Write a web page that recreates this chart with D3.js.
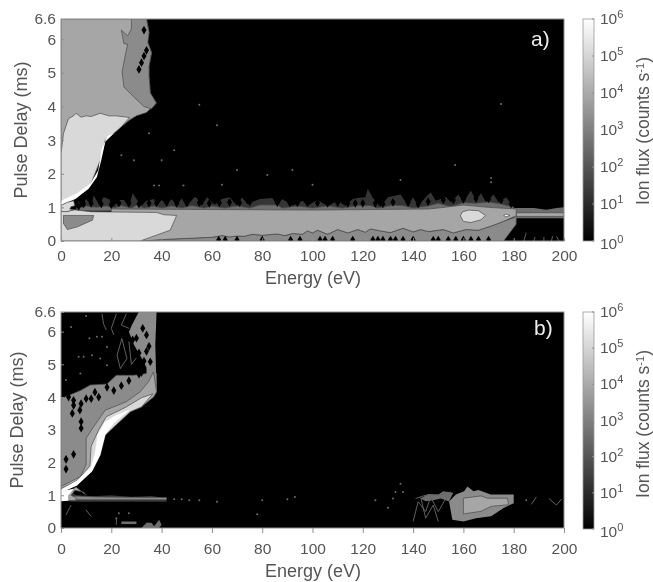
<!DOCTYPE html>
<html>
<head>
<meta charset="utf-8">
<script src="https://cdn.jsdelivr.net/npm/d3@7"></script>
<style>
  html, body { margin: 0; padding: 0; background: #fff; }
  text { font-family: "Liberation Sans", Arial, sans-serif; fill: #555; }
</style>
</head>
<body>
<svg id="chart" width="653" height="582"></svg>
<script>
// tick labels
const energyTicks = [0, 20, 40, 60, 80, 100, 120, 140, 160, 180, 200];
const delayTicks = [0, 1, 2, 3, 4, 5, 6, 6.6];
const fluxExponents = [0, 1, 2, 3, 4, 5, 6];

// level colours of the filled contours
const levelDark = "#8b8b8b";
const levelMid = "#a6a6a6";
const levelLight = "#d9d9d9";
const levelWhite = "#ffffff";
const levelFringe = "#363636";
const levelFringe2 = "#6e6e6e";

// panel a, regions as [energy, delay]
const aTopLeft = [[0,6.6],[34,6.6],[35,6.2],[34.5,5.9],[36,5.6],[35,5.2],[35,4.9],[35.5,4.4],[37.9,4.1],[34,3.82],[30,3.72],[27.3,3.6],[24,3.4],[21,3.2],[17.6,3],[15.6,2.4],[11.6,1.65],[6.4,1.3],[0,1.06]];
const aTopDark = [[28,6.6],[34,6.6],[35,6.2],[34.5,5.9],[36,5.6],[35,5.2],[35,4.9],[35.5,4.4],[37.9,4.1],[36,3.93],[33,4],[29,4.28],[25,4.58],[24.3,5.03],[25.5,5.5],[26.5,5.85],[25,5.87],[24,6.27],[26.5,6.1],[28,6.3]];
const aLightTop = [[0,2.6],[1,3.2],[3,3.64],[5,3.72],[6,3.8],[8,3.68],[10,3.72],[12,3.7],[15.6,3.8],[19,3.72],[22,3.72],[27.3,3.67],[24,3.4],[21,3.2],[17.6,3],[15.6,2.4],[11.6,1.65],[6.4,1.3],[0,1.1]];
const aWhiteBand = [[21,3.2],[18.5,3.12],[16.2,2.75],[14.8,2.1],[11.8,1.72],[6.4,1.42],[0,1.2],[0,1.06],[5.7,1.25],[11,1.55],[14.3,1.9],[16,2.4],[17.6,2.95]];
const aBottomStrip = [[30,0],[42,0.05],[60,0.11],[64,0.16],[67,0.12],[70,0.15],[73,0.14],[76,0.2],[80,0.17],[86,0.21],[89,0.16],[92,0.22],[96,0.2],[98,0.3],[100,0.24],[102,0.32],[106,0.2],[110,0.34],[114,0.24],[118,0.34],[121,0.26],[123,0.36],[127,0.3],[131,0.25],[136,0.38],[140,0.27],[143,0.34],[146,0.28],[152,0.34],[156,0.24],[161,0.34],[166,0.32],[172,0.47],[176.5,0.6],[181,0.72],[181,0.5],[178,0.2],[176,0],[30,0]];
const aBand = [[20,0],[31.5,0],[42,0.05],[60,0.11],[64,0.16],[67,0.12],[70,0.15],[73,0.14],[76,0.2],[80,0.17],[86,0.21],[89,0.16],[92,0.22],[96,0.2],[98,0.3],[100,0.24],[102,0.32],[106,0.2],[110,0.34],[114,0.24],[118,0.34],[121,0.26],[123,0.36],[127,0.3],[131,0.25],[136,0.38],[140,0.27],[143,0.34],[146,0.28],[152,0.34],[156,0.24],[161,0.34],[166,0.32],[172,0.47],[176.5,0.6],[181,0.75],[181,0.95],[170,1.0],[160,1.07],[150,0.98],[146,0.95],[100,0.92],[20,0.95]];
const aRightTail = [[180,0.68],[200,0.68],[200,1],[197,0.98],[193,0.93],[188,0.98],[180,0.98]];
const aRightStripe = [[181,0.73],[200,0.73],[200,0.84],[181,0.84]];
const aLightBottom = [[0,0],[31.5,0],[43.4,0.32],[46,0.76],[41,0.78],[38,0.85],[12,0.87],[5,0.93],[2.5,0.88],[0,0.88]];
const aPatch = [[1,0.76],[13,0.76],[12.5,0.62],[6.5,0.42],[2.5,0.34],[1,0.52]];
const aBlob = [[158.8,0.75],[159.5,0.86],[162,0.92],[166,0.9],[168.8,0.76],[167,0.63],[163,0.55],[160,0.58]];
const aSpot = [[176,0.76],[177,0.8],[178.5,0.76],[177,0.72]];
const aFringeDark = [[6,0.95],[7,1.2],[8,1],[10,1.25],[12,1.05],[13,1.35],[15,1.1],[17,1.3],[19,1.25],[21,1.03],[23,1.22],[25,1.22],[27,1.02],[28.5,1.42],[30,1.25],[32,1.05],[34,1.2],[37,1.25],[38,1.03],[40,1.22],[42,1.08],[44,1.25],[46,1.05],[48,1.26],[50,1.03],[53,1.3],[54,1.28],[56,1.05],[58,1.3],[61,1.08],[64,1.25],[67,1.3],[70,1.05],[72,1.3],[74,1.1],[79,1.25],[84,1.28],[86,1.05],[88,1.25],[92,1.05],[96,1.2],[98,1.05],[102,1.22],[106,1.04],[110,1.2],[113,1.05],[116,1.25],[118,1.28],[121,1.3],[122,1.55],[124,1.28],[127,1.02],[130,1.3],[135,1.38],[138,1.05],[140,1.3],[142,1.04],[145,1.3],[147,1.45],[149,1.2],[153,1.3],[155,1.15],[158,1.38],[160,1.15],[163,1.5],[165,1.2],[167,1.42],[169,1.15],[172,1.38],[174,1.15],[177,1.3],[180,1],[180,0.9],[6,0.9]];
const aFringeMid = [[6,0.95],[10,1.04],[14,1],[18,1.04],[21,0.98],[24,1.05],[28,0.98],[30,1.06],[33,0.98],[37,1.04],[40,0.98],[44,1.04],[48,0.98],[52,1.05],[57,0.98],[60,1.04],[65,0.98],[70,1.04],[75,0.98],[79,1.07],[86,1.07],[88,0.98],[94,1.04],[100,0.98],[106,1.04],[112,0.98],[118,1.05],[123,1.05],[126,0.98],[132,1.06],[136,1.05],[140,0.98],[146,1.04],[150,1.12],[155,1.02],[160,1.14],[165,1.12],[170,1.16],[175,1.1],[180,1],[180,0.9],[6,0.9]];
const aWhiteEdge = [[0,1.06],[2.5,1.15],[5,1.2],[5.5,1.05],[4,1.02],[3.5,0.95],[5,0.92],[2,0.87],[0,0.88]];
const aHoles = [[33,6.27],[34,5.67],[33,5.5],[32,5.3],[31,5.1],[62.7,0.03],[65.3,0.03],[70,0.03],[80,0.03],[91.3,0.03],[95,0.03],[103,0.03],[105,0.03],[108,0.03],[116,0.03],[124,0.03],[126,0.03],[128,0.03],[131,0.03],[133,0.03],[136,0.03],[140,0.03],[148,0.03],[150,0.03],[154,0.03],[157,0.03],[160,0.03],[163,0.03],[166,0.03],[170,0.03],[7,1.03],[9,1.1],
  [12,1.12],[16,1.1],[20,1.08],[23,1.13],[27,1.12],[31,1.1],[35,1.12],[38,1.13],[42,1.14],[46,1.12],[50,1.13],[55,1.14],[59,1.12],[63,1.13],[67,1.15],[71,1.14],[75,1.16],[86,1.14],[91,1.13],[94,1.13],[98,1.14],[102,1.13],[106,1.12],[110,1.14],[114,1.12],[117,1.12],[120,1.12],[125,1.12],[128,1.1],[132,1.15],[138,1.14],[142,1.1],[146,1.17],[152,1.22],[156,1.22],[160,1.24],[165,1.26],[170,1.25],[175,1.22],[179,1.1]];
const aSpecks = [[24,2.55],[29,2.4],[40,2.4],[45,2.7],[37,1.65],[39,1.65],[48.7,1.65],[55,4.05],[62,3.44],[35,3.2],[70,2.11],[82,1.96],[92,2.11],[64,1.67],[100,1.67],[135,1.81],[175,4.07],[156.7,2.26],[171,1.87],[171,1.75]];
const aSpokes = [[[184,0],[185,0.25]],[[188,0],[188.5,0.12]],[[192,0],[192,0.12]],[[195,0],[195.5,0.15]],[[198,0],[197,0.14]]];

// panel b, regions as [energy, delay]
const bSpeckGray = [[30.9,6.6],[38,6.6],[37.5,5.6],[38,4.2],[34,4.4],[34,4.9],[32,5.2],[29,5.6],[27,6],[28.2,6.2]];
const bMain = [[0,1.42],[0,3.96],[3,4.05],[7.7,4.2],[11.7,4.37],[18.3,4.4],[22,4.67],[28.9,4.67],[34,4.72],[38,4.72],[38,4.16],[36.8,4],[31.5,3.75],[26,3.5],[17.6,2.9],[12.3,2],[6.4,1.4],[0,1.2]];
const bBand = [[0,1.27],[7.7,1.57],[10,1.93],[10,2.74],[13,3.1],[17.6,3.6],[26,3.86],[31.5,4.16],[34.8,4.47],[36.8,4.77],[38,4.16],[36.8,4],[32,3.7],[27.5,3.55],[17.6,2.84],[15.6,2.23],[12.3,1.73],[6.4,1.37],[0,1.12]];
const bLight = [[0,1.2],[6.4,1.45],[11.5,1.9],[12,2.5],[15,3],[18,3.4],[26,3.7],[32,3.98],[36.5,4.1],[32,3.7],[27.5,3.55],[17.6,2.84],[15.6,2.23],[12.3,1.73],[6.4,1.37],[0,1.12]];
const bWhite = [[0,1.17],[6.4,1.45],[11.8,1.85],[13.5,2.3],[14.5,2.85],[17.5,3.25],[22,3.45],[27.5,3.62],[21,3.2],[17.6,2.84],[15.6,2.23],[12.3,1.73],[6.4,1.3],[0,1.08]];
const bLeftBand = [[4,1.1],[6,1],[12,0.97],[20,1],[28,0.95],[36,0.98],[42,0.9],[42,0.8],[4,0.8]];
const bLeftStripe = [[5,0.86],[42,0.86],[42,0.93],[14,0.95],[5,0.98]];
const bLeftWhite = [[0,0.82],[3,0.83],[3,1],[5,1.2],[0,1.12]];
const bLeftLight = [[3,0.83],[6,0.85],[6,0.92],[4,1],[5.5,1.15],[9,1.1],[10,1],[6,1.25],[3,1.1]];
const bBottomBits = [[[24,0.12],[30,0.12],[30,0.2],[24,0.2]],[[32,0],[34,0.16],[36,0.16],[37,0.05],[39,0.25],[40,0.1],[39,0]]];
const bBlobDark = [[154.3,0.81],[157,1.02],[160.3,1.12],[161.6,1.27],[164,1.12],[166,1.16],[170.9,1.02],[180,1.02],[180,0.76],[176,0.61],[171,0.36],[165,0.3],[160,0.2],[155.6,0.25]];
const bBlobLight = [[160,0.91],[167,0.98],[169.5,0.91],[177.5,0.91],[178,0.71],[171,0.66],[167,0.51],[160,0.43]];
const bBlobSide = [[143,0.9],[146,1.04],[150,1.02],[152,1.12],[156,1.08],[154.3,0.81],[151,0.9],[148,0.85],[145,0.82]];
const bHoles = [[3,4.0],[5,3.9],[8,3.8],[7.5,3.6],[5,3.75],[10,3.95],[12,3.95],[15,4],[13.5,4.15],[18.3,4.3],[21,4.2],[24,4.35],[27,4.5],[31,4.7],[4.5,3.5],[8,3.25],[8,3.05],[2,2.1],[5,2.25],[2,1.8],[32.5,6.1],[34,5.9],[35,5.55],[34,5.4],[35.5,5.08],[32,4.75],[30,5.8],[31,5.35],[33,5.1],[28.5,5.75]];
const bSpecks = [[4,6.14],[10,6.48],[11.3,5.8],[14.3,5.84],[16.3,5.84],[18.3,5.53],[7,5.23],[9,5.23],[12.3,5.28],[15.6,5.18],[18.3,4.97],[2,4.52],[7.7,4.72],[0,3.1],[130,0.62],[132,0.9],[135,1.35],[133,1.1],[136,1.1],[125,0.85],[185,0.85],[45,0.88],[48,0.88],[51,0.85],[55,0.85],[62,0.8],[80,0.85],[90,0.88],[23,0.45],[27,0.45],[22,0.3],[78,0.42],[93,0.95]];
const bSquiggles = [
  [[16.3,6.55],[16.9,6.24],[18,6.05]], [[22,6.55],[20,6.1],[21,5.9]], [[26,6.55],[24,6.2],[27,6.1]],
  [[22.3,5.28],[24.2,5.79],[26.2,5.18],[23.6,4.87],[22.3,5.28]], [[27,5.7],[28,5],[30,5.2]],
  [[140,0.2],[142,0.8],[145,0.5],[147,0.95],[150,0.5],[153,0.9]], [[143,0.95],[145,0.3],[148,0.7],[150,0.2]],
  [[141,0.9],[145,1],[150,1],[155,1.1]], [[187,0.72],[189,0.95]], [[194,0.9],[197,0.7],[199,0.88]],
  [[10,0.55],[12,0.35]], [[2,0.4],[4,0.7]], [[22,0.1],[22,0.3]]
];

const svg = d3.select("#chart");
const defs = svg.append("defs");
defs.append("filter").attr("id", "soft").attr("x", "-2%").attr("y", "-2%").attr("width", "104%").attr("height", "104%")
    .append("feGaussianBlur").attr("stdDeviation", 0.7);
defs.append("filter").attr("id", "softText")
    .append("feGaussianBlur").attr("stdDeviation", 0.35);

const barGrad = defs.append("linearGradient").attr("id", "barGrad").attr("x1", 0).attr("x2", 0).attr("y1", 1).attr("y2", 0);
barGrad.append("stop").attr("offset", "0%").attr("stop-color", "#000");
barGrad.append("stop").attr("offset", "100%").attr("stop-color", "#fff");

function drawPanel(opt) {
    const x = d3.scaleLinear().domain([0, 200]).range([61, 564]);
    const y = d3.scaleLinear().domain([0, 6.6]).range([opt.bottom, opt.top]);
    const line = d3.line().x(d => x(d[0])).y(d => y(d[1]));

    const clipId = "clip-" + opt.name;
    defs.append("clipPath").attr("id", clipId).append("rect")
        .attr("x", x(0)).attr("y", y(6.6)).attr("width", x(200) - x(0)).attr("height", y(0) - y(6.6));

    const plot = svg.append("g").attr("clip-path", "url(#" + clipId + ")").append("g").attr("filter", "url(#soft)");
    plot.append("rect").attr("x", x(0) - 3).attr("y", y(6.6) - 3)
        .attr("width", x(200) - x(0) + 6).attr("height", y(0) - y(6.6) + 6).attr("fill", "#000");

    opt.regions.forEach(r => {
        plot.append("path").attr("d", line(r.pts) + "Z").attr("fill", r.fill)
            .attr("stroke", r.line ? "#4a4a4a" : "none").attr("stroke-width", 0.7);
    });
    opt.squiggles.forEach(s => {
        plot.append("path").attr("d", line(s)).attr("fill", "none").attr("stroke", "#6a6a6a").attr("stroke-width", 0.9);
    });
    plot.selectAll(".hole").data(opt.holes).join("path")
        .attr("d", d3.symbol(d3.symbolDiamond, 22))
        .attr("transform", d => "translate(" + x(d[0]) + "," + y(d[1]) + ")").attr("fill", "#000");
    plot.selectAll(".speck").data(opt.specks).join("circle")
        .attr("cx", d => x(d[0])).attr("cy", d => y(d[1])).attr("r", 1).attr("fill", "#6e6e6e");

    // frame and axes
    svg.append("rect").attr("x", x(0)).attr("y", y(6.6)).attr("width", x(200) - x(0)).attr("height", y(0) - y(6.6))
        .attr("fill", "none").attr("stroke", "#8e8e8e").attr("stroke-width", 1);

    const xAxis = svg.append("g").attr("transform", "translate(0," + y(0) + ")")
        .call(d3.axisBottom(x).tickValues(energyTicks).tickFormat(d3.format("d")).tickSize(opt.xTickSize).tickPadding(opt.xTickPad));
    const yAxis = svg.append("g").attr("transform", "translate(" + x(0) + ",0)")
        .call(d3.axisLeft(y).tickValues(delayTicks).tickFormat(d => d).tickSize(-3).tickPadding(5));
    [xAxis, yAxis].forEach(a => {
        a.select(".domain").remove();
        a.selectAll(".tick line").attr("stroke", "#8e8e8e");
        a.selectAll("text").attr("font-size", 15.5).attr("fill", "#555");
        a.attr("font-family", null).attr("font-size", null);
    });

    svg.append("text").attr("x", (x(0) + x(200)) / 2 + 0.5).attr("y", opt.xLabelY)
        .attr("text-anchor", "middle").attr("font-size", 18).text("Energy (eV)");
    svg.append("text").attr("transform", "translate(" + opt.yLabelX + "," + (opt.yLabelMid) + ") rotate(-90)")
        .attr("text-anchor", "middle").attr("font-size", 18).text("Pulse Delay (ms)");

    svg.append("text").attr("x", opt.tagX).attr("y", opt.tagY).attr("font-size", 21)
        .style("fill", "#eee").text(opt.name + ")");

    // colour bar
    const c = d3.scaleLog().domain([1, 1e6]).range([opt.barBottom, opt.top]);
    svg.append("rect").attr("x", 583).attr("y", c(1e6)).attr("width", 11).attr("height", c(1) - c(1e6))
        .attr("fill", "url(#barGrad)").attr("stroke", "#9a9a9a").attr("stroke-width", 0.8);
    const barG = svg.selectAll(".bar-" + opt.name).data(fluxExponents).join("g")
        .attr("transform", d => "translate(594," + c(Math.pow(10, d)) + ")");
    barG.append("line").attr("x1", -2).attr("x2", 0).attr("stroke", "#8e8e8e");
    const lab = barG.append("text").attr("x", 6).attr("y", d => d === 0 ? 8 : 5).attr("font-size", 15.5);
    lab.append("tspan").text("10");
    lab.append("tspan").attr("dy", -6).attr("font-size", 11).text(d => d);

    const cap = svg.append("text").attr("transform", "translate(649," + opt.barLabelMid + ") rotate(-90)")
        .attr("text-anchor", "middle").attr("font-size", 17.5);
    cap.append("tspan").text("Ion flux (counts s");
    cap.append("tspan").attr("dy", -5).attr("font-size", 11).text("-1");
    cap.append("tspan").attr("dy", 5).text(")");
}

drawPanel({
    name: "a", top: 19, bottom: 241, barBottom: 241, xLabelY: 284, yLabelX: 27, yLabelMid: 130, tagX: 531, tagY: 46, barLabelMid: 131,
    xTickSize: -3, xTickPad: 9,
    regions: [
        { pts: aTopLeft, fill: levelMid, line: true },
        { pts: aTopDark, fill: levelDark, line: true },
        { pts: aLightTop, fill: levelLight, line: true },
        { pts: aWhiteBand, fill: levelWhite },
        { pts: aFringeDark, fill: levelFringe, line: false },
        { pts: aFringeMid, fill: levelFringe2, line: true },
        { pts: aBottomStrip, fill: levelDark, line: true },
        { pts: aRightTail, fill: levelFringe2, line: false },
        { pts: aRightStripe, fill: levelMid, line: true },
        { pts: aBand, fill: levelMid, line: true },
        { pts: aLightBottom, fill: levelLight, line: true },
        { pts: aPatch, fill: levelDark, line: true },
        { pts: aWhiteEdge, fill: levelLight, line: true },
        { pts: aBlob, fill: levelLight, line: true },
        { pts: aSpot, fill: levelWhite, line: true }
    ],
    squiggles: aSpokes,
    holes: aHoles,
    specks: aSpecks
});

drawPanel({
    name: "b", top: 312, bottom: 528, barBottom: 529, xLabelY: 577, yLabelX: 23, yLabelMid: 420, tagX: 534, tagY: 335, barLabelMid: 424,
    xTickSize: 5, xTickPad: 10,
    regions: [
        { pts: bMain, fill: levelDark, line: true },
        { pts: bSpeckGray, fill: levelDark, line: false },
        { pts: bBand, fill: levelMid, line: true },
        { pts: bLight, fill: levelLight, line: true },
        { pts: bWhite, fill: levelWhite },
        { pts: bLeftBand, fill: levelFringe, line: false },
        { pts: bLeftStripe, fill: levelDark, line: true },
        { pts: bLeftLight, fill: levelMid, line: true },
        { pts: bLeftWhite, fill: levelWhite },
        { pts: bBottomBits[0], fill: levelFringe2 },
        { pts: bBottomBits[1], fill: levelFringe2 },
        { pts: bBlobSide, fill: levelFringe2, line: false },
        { pts: bBlobDark, fill: levelDark, line: false },
        { pts: bBlobLight, fill: levelMid, line: true }
    ],
    squiggles: bSquiggles,
    holes: bHoles,
    specks: bSpecks
});

svg.selectAll("text").attr("filter", "url(#softText)");
</script>
</body>
</html>
